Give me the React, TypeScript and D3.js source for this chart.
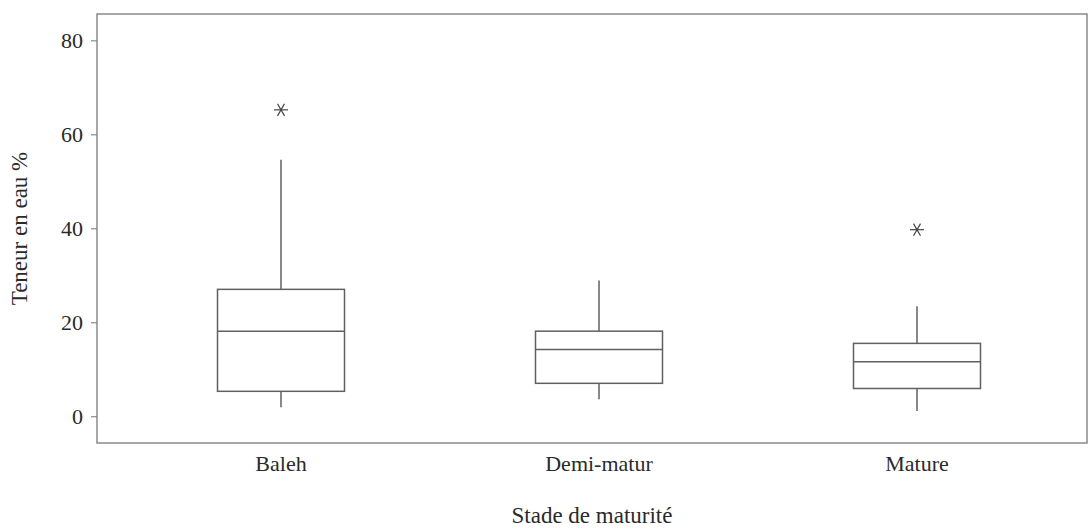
import { useEffect, useRef } from 'react';
import * as d3 from 'd3';

// Stades de maturité
const categories = ['Baleh', 'Demi-matur', 'Mature'];
// Résumé des boîtes
const whiskerLow = [1.9, 3.6, 1.1];
const q1 = [5.3, 7.0, 5.9];
const median = [18.1, 14.2, 11.6];
const q3 = [27.0, 18.1, 15.5];
const whiskerHigh = [54.6, 28.9, 23.4];
// Valeurs aberrantes
const outlierCat = ['Baleh', 'Mature'];
const outlierVal = [65.2, 39.7];
const yTicks = [0, 20, 40, 60, 80];

const App = () => {
  const svgRef = useRef<SVGSVGElement>(null);

  useEffect(() => {
    const svg = d3.select(svgRef.current);
    svg.selectAll('*').remove();

    const W = 1089, H = 529;
    const frame = { left: 97, top: 14, right: 1087, bottom: 443 };
    const font = '"Liberation Serif", "Times New Roman", serif';
    const textColor = '#2a2a2a';
    const lineColor = '#606060';

    svg.attr('width', W).attr('height', H);

    const y = d3.scaleLinear()
      .domain([-5.7, 85.6])
      .range([frame.bottom, frame.top]);

    const x = d3.scalePoint()
      .domain(categories)
      .range([frame.left + 184, frame.left + 820]);

    const boxW = 127;

    // Frame
    svg.append('rect')
      .attr('x', frame.left)
      .attr('y', frame.top)
      .attr('width', frame.right - frame.left)
      .attr('height', frame.bottom - frame.top)
      .attr('fill', 'none')
      .attr('stroke', '#8a8a8a')
      .attr('stroke-width', 1.5);

    // Y axis
    const yAxis = svg.append('g')
      .attr('transform', `translate(${frame.left},0)`)
      .call(d3.axisLeft(y).tickValues(yTicks).tickSize(6).tickPadding(8));
    yAxis.select('.domain').remove();
    yAxis.selectAll('line').attr('stroke', '#8a8a8a').attr('stroke-width', 1.2);
    yAxis.selectAll('text')
      .attr('font-family', font)
      .attr('font-size', 22)
      .attr('fill', textColor);

    // Category labels
    svg.selectAll('.cat')
      .data(categories)
      .enter()
      .append('text')
      .attr('class', 'cat')
      .attr('x', d => x(d)!)
      .attr('y', 471)
      .attr('text-anchor', 'middle')
      .attr('font-family', font)
      .attr('font-size', 22)
      .attr('fill', textColor)
      .text(d => d);

    // Axis titles
    svg.append('text')
      .attr('x', (frame.left + frame.right) / 2)
      .attr('y', 523)
      .attr('text-anchor', 'middle')
      .attr('font-family', font)
      .attr('font-size', 23)
      .attr('fill', textColor)
      .text('Stade de maturité');

    svg.append('text')
      .attr('transform', `translate(27,${(frame.top + frame.bottom) / 2}) rotate(-90)`)
      .attr('text-anchor', 'middle')
      .attr('font-family', font)
      .attr('font-size', 23)
      .attr('fill', textColor)
      .text('Teneur en eau %');

    // Boxes
    const g = svg.append('g')
      .attr('stroke', lineColor)
      .attr('stroke-width', 1.5)
      .attr('fill', 'none');

    categories.forEach((c, i) => {
      const cx = x(c)!;
      g.append('line')
        .attr('x1', cx).attr('x2', cx)
        .attr('y1', y(q3[i])).attr('y2', y(whiskerHigh[i]));
      g.append('line')
        .attr('x1', cx).attr('x2', cx)
        .attr('y1', y(q1[i])).attr('y2', y(whiskerLow[i]));
      g.append('rect')
        .attr('x', cx - boxW / 2)
        .attr('y', y(q3[i]))
        .attr('width', boxW)
        .attr('height', y(q1[i]) - y(q3[i]))
        .attr('fill', '#fff');
      g.append('line')
        .attr('x1', cx - boxW / 2).attr('x2', cx + boxW / 2)
        .attr('y1', y(median[i])).attr('y2', y(median[i]));
    });

    // Outliers (asterisks)
    const r = 7;
    outlierCat.forEach((c, i) => {
      const cx = x(c)!;
      const cy = y(outlierVal[i]);
      [0, 60, 120].forEach(a => {
        const rad = (a * Math.PI) / 180;
        g.append('line')
          .attr('x1', cx - r * Math.cos(rad)).attr('y1', cy - r * Math.sin(rad))
          .attr('x2', cx + r * Math.cos(rad)).attr('y2', cy + r * Math.sin(rad))
          .attr('stroke', '#444')
          .attr('stroke-width', 1.2);
      });
    });
  }, []);

  return (
    <div style={{ position: 'absolute', left: 0, top: 0 }}>
      <svg ref={svgRef} style={{ display: 'block' }}></svg>
    </div>
  );
};

export default App;
